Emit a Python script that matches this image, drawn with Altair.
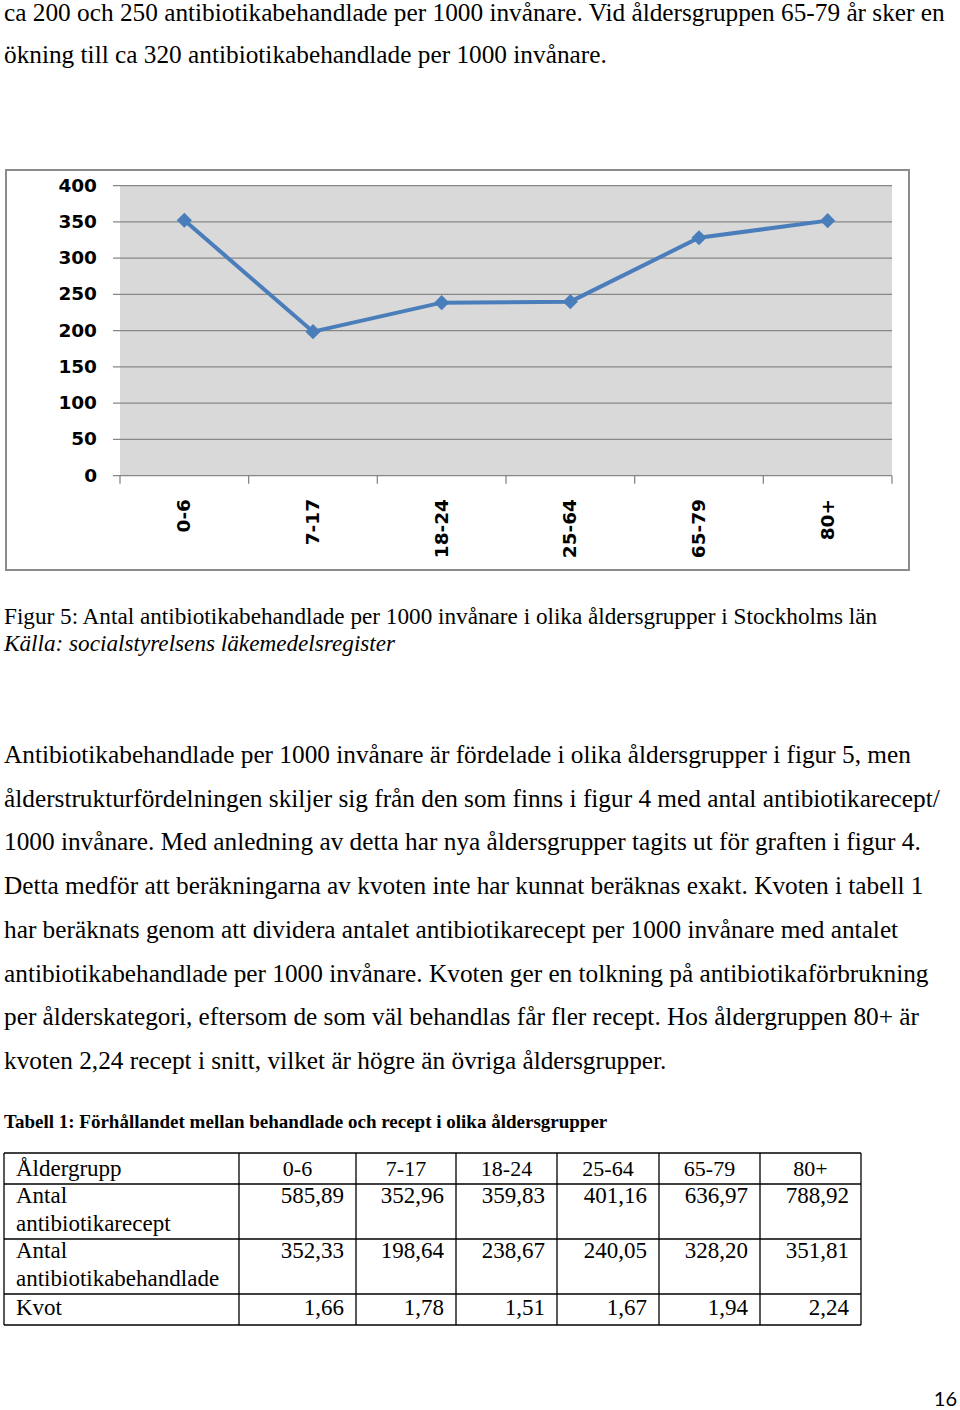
import altair as alt
import pandas as pd

# ---------------- data ----------------
ages = ["0-6", "7-17", "18-24", "25-64", "65-79", "80+"]
behandlade = [352.33, 198.64, 238.67, 240.05, 328.20, 351.81]
recept = [585.89, 352.96, 359.83, 401.16, 636.97, 788.92]
kvot = [1.66, 1.78, 1.51, 1.67, 1.94, 2.24]
y_ticks = [0, 50, 100, 150, 200, 250, 300, 350, 400]

top_lines = [
    "ca 200 och 250 antibiotikabehandlade per 1000 invånare. Vid åldersgruppen 65-79 år sker en",
    "ökning till ca 320 antibiotikabehandlade per 1000 invånare.",
]
caption = "Figur 5: Antal antibiotikabehandlade per 1000 invånare i olika åldersgrupper i Stockholms län"
source = "Källa: socialstyrelsens läkemedelsregister"
paragraph = [
    "Antibiotikabehandlade per 1000 invånare är fördelade i olika åldersgrupper i figur 5, men",
    "ålderstrukturfördelningen skiljer sig från den som finns i figur 4 med antal antibiotikarecept/",
    "1000 invånare. Med anledning av detta har nya åldersgrupper tagits ut för graften i figur 4.",
    "Detta medför att beräkningarna av kvoten inte har kunnat beräknas exakt. Kvoten i tabell 1",
    "har beräknats genom att dividera antalet antibiotikarecept per 1000 invånare med antalet",
    "antibiotikabehandlade per 1000 invånare. Kvoten ger en tolkning på antibiotikaförbrukning",
    "per ålderskategori, eftersom  de som väl behandlas får fler recept. Hos åldergruppen 80+ är",
    "kvoten 2,24 recept i snitt, vilket är högre än övriga åldersgrupper.",
]
table_title = "Tabell 1: Förhållandet mellan behandlade och recept i olika åldersgrupper"
row_labels = [["Åldergrupp"], ["Antal", "antibiotikarecept"], ["Antal", "antibiotikabehandlade"], ["Kvot"]]
page_number = "16"

# ---------------- layout ----------------
W, H = 960, 1410
PL, PR, PT, PB = 120, 892, 185.7, 475.7
SERIF = "Liberation Serif"
SANS = "DejaVu Sans"
BLUE = "#4A7EBB"
GRID = "#878787"
BODY = 25.3

one = alt.Data(values=[{"a": 0}])
xs_point = alt.Scale(type="point", domain=ages, range=[PL, PR], padding=0.5)
xs_bound = alt.Scale(domain=[0, 6], range=[PL, PR], nice=False, zero=False)
ys = alt.Scale(domain=[0, 400], range=[PB, PT], nice=False, zero=False)


def text_layer(df, size, font=SERIF, weight="normal", style="normal", align="left", color="black"):
    return alt.Chart(df).mark_text(
        font=font, fontSize=size, fontWeight=weight, fontStyle=style,
        align=align, baseline="alphabetic", color=color,
    ).encode(
        x=alt.X("x:Q", scale=None, axis=None),
        y=alt.Y("y:Q", scale=None, axis=None),
        text="text:N",
    )


def rect(x, x2, y, y2, fill, stroke=None, sw=0):
    kw = dict(fill=fill)
    if stroke:
        kw.update(stroke=stroke, strokeWidth=sw)
    return alt.Chart(one).mark_rect(**kw).encode(
        x=alt.value(x), x2=alt.value(x2), y=alt.value(y), y2=alt.value(y2)
    )


layers = []

# page text above chart
layers.append(text_layer(pd.DataFrame({"text": top_lines, "x": 4, "y": [20.5, 63]}), BODY))

# chart frame and plot background
layers.append(rect(6, 909, 170, 570, "white", "#8C8C8C", 2))
layers.append(rect(PL, PR, PT, PB, "#D9D9D9"))

# gridlines (+ left tick stubs)
grid_df = pd.DataFrame({"v": y_ticks})
layers.append(
    alt.Chart(grid_df).mark_rule(color=GRID, strokeWidth=1.3).encode(
        y=alt.Y("v:Q", scale=ys, axis=None), x=alt.value(PL - 7), x2=alt.value(PR)
    )
)
# y labels
layers.append(
    alt.Chart(grid_df).mark_text(
        font=SANS, fontSize=18.5, fontWeight="bold", align="right", baseline="middle", color="black"
    ).encode(y=alt.Y("v:Q", scale=ys, axis=None), x=alt.value(97), text="v:N")
)
# x tick marks at category boundaries
layers.append(
    alt.Chart(pd.DataFrame({"b": list(range(len(ages) + 1))})).mark_rule(color=GRID, strokeWidth=1.3).encode(
        x=alt.X("b:Q", scale=xs_bound, axis=None), y=alt.value(PB), y2=alt.value(PB + 8)
    )
)
# x labels
age_df = pd.DataFrame({"age": ages, "val": behandlade})
layers.append(
    alt.Chart(age_df).mark_text(
        font=SANS, fontSize=18.5, fontWeight="bold", angle=270, align="right", baseline="middle", color="black"
    ).encode(x=alt.X("age:N", scale=xs_point, axis=None), y=alt.value(499), text="age:N")
)
# line + diamonds
layers.append(
    alt.Chart(age_df).mark_line(color=BLUE, strokeWidth=4).encode(
        x=alt.X("age:N", scale=xs_point, axis=None, sort=ages),
        y=alt.Y("val:Q", scale=ys, axis=None),
    )
)
layers.append(
    alt.Chart(age_df).mark_point(shape="diamond", filled=True, size=230, color=BLUE, opacity=1).encode(
        x=alt.X("age:N", scale=xs_point, axis=None),
        y=alt.Y("val:Q", scale=ys, axis=None),
    )
)

# caption
layers.append(text_layer(pd.DataFrame({"text": [caption], "x": 4, "y": [624]}), 23.2))
layers.append(text_layer(pd.DataFrame({"text": [source], "x": 4, "y": [651]}), 23.2, style="italic"))

# paragraph
para_y = [763 + i * 43.7 for i in range(len(paragraph))]
layers.append(text_layer(pd.DataFrame({"text": paragraph, "x": 4, "y": para_y}), BODY))

# table title
layers.append(text_layer(pd.DataFrame({"text": [table_title], "x": 4, "y": [1128]}), 19, weight="bold"))

# table grid
cols = [4, 239, 356, 456, 557, 659, 760, 861]
rows = [1153, 1184, 1239, 1294, 1325]
layers.append(
    alt.Chart(pd.DataFrame({"y": rows})).mark_rule(color="black", strokeWidth=1.3).encode(
        y=alt.Y("y:Q", scale=None, axis=None), x=alt.value(cols[0]), x2=alt.value(cols[-1])
    )
)
layers.append(
    alt.Chart(pd.DataFrame({"x": cols})).mark_rule(color="black", strokeWidth=1.3).encode(
        x=alt.X("x:Q", scale=None, axis=None), y=alt.value(rows[0]), y2=alt.value(rows[-1])
    )
)

# table text
row_base = [1176, 1203, 1258, 1315]
lab_text, lab_y = [], []
for base, labs in zip(row_base, row_labels):
    for j, t in enumerate(labs):
        lab_text.append(t)
        lab_y.append(base + j * 28)
layers.append(text_layer(pd.DataFrame({"text": lab_text, "x": 16, "y": lab_y}), 23))

centers = [(cols[i + 1] + cols[i + 2]) / 2 for i in range(len(ages))]
layers.append(text_layer(pd.DataFrame({"text": ages, "x": centers, "y": row_base[0]}), 22, align="center"))

fmt = lambda v: f"{v:.2f}".replace(".", ",")
val_text, val_x, val_y = [], [], []
for base, series in zip(row_base[1:], [recept, behandlade, kvot]):
    for i, v in enumerate(series):
        val_text.append(fmt(v))
        val_x.append(cols[i + 2] - 12)
        val_y.append(base)
layers.append(text_layer(pd.DataFrame({"text": val_text, "x": val_x, "y": val_y}), 23, align="right"))

# page number
layers.append(text_layer(pd.DataFrame({"text": [page_number], "x": 957, "y": [1406]}), 20, font="Lato", align="right"))

chart = (
    alt.layer(*layers)
    .resolve_scale(x="independent", y="independent")
    .properties(width=W, height=H, padding=0, autosize=alt.AutoSizeParams(type="none"), background="white")
    .configure_view(stroke=None)
)

chart.save("out.html", embed_options={"renderer": "svg", "actions": False})
